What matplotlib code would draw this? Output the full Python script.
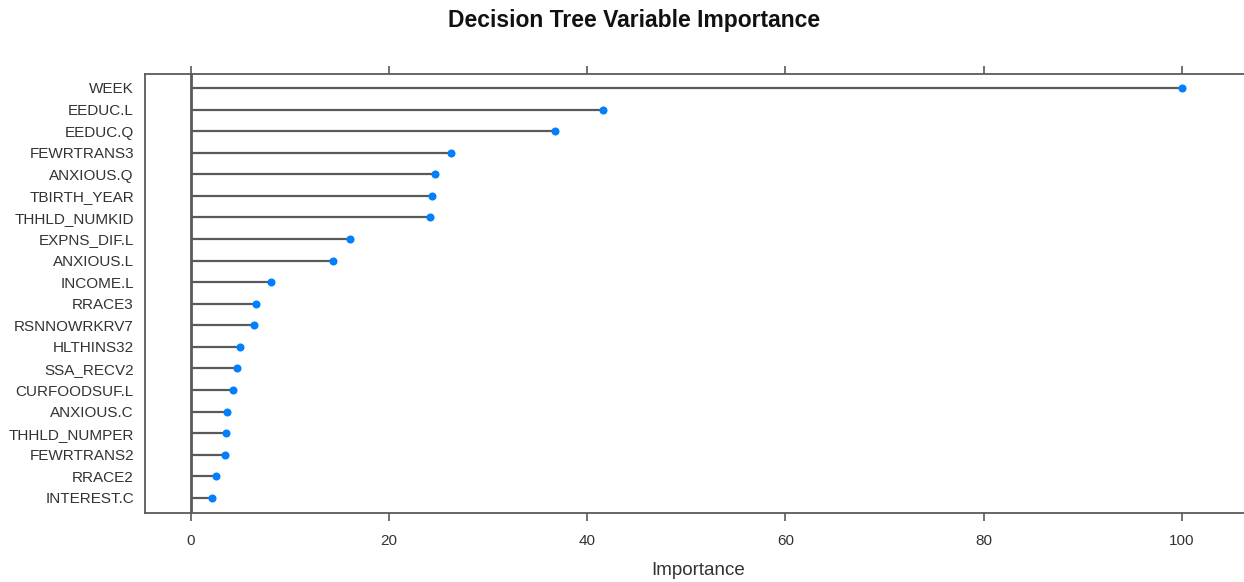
import matplotlib
matplotlib.use('Agg')
from matplotlib import pyplot as plt

plt.rcParams['font.family'] = ['Liberation Sans', 'DejaVu Sans']

variables = ['WEEK', 'EEDUC.L', 'EEDUC.Q', 'FEWRTRANS3', 'ANXIOUS.Q', 'TBIRTH_YEAR',
             'THHLD_NUMKID', 'EXPNS_DIF.L', 'ANXIOUS.L', 'INCOME.L', 'RRACE3',
             'RSNNOWRKRV7', 'HLTHINS32', 'SSA_RECV2', 'CURFOODSUF.L', 'ANXIOUS.C',
             'THHLD_NUMPER', 'FEWRTRANS2', 'RRACE2', 'INTEREST.C']
importance = [100, 41.6, 36.7, 26.2, 24.6, 24.3, 24.1, 16.0, 14.3, 8.1, 6.6,
              6.4, 4.9, 4.6, 4.2, 3.6, 3.5, 3.4, 2.5, 2.1]
xticks = [0, 20, 40, 60, 80, 100]

fig = plt.figure(figsize=(12.44, 5.82), dpi=100)
ax = fig.add_axes([0.1166, 0.1186, 0.889, 0.7543])

n = len(variables)
ypos = list(range(n, 0, -1))

# reference line at zero, and the stems
ax.axvline(0, color='#5a5a5a', linewidth=2, zorder=1)
ax.hlines(ypos, 0, importance, color='#5a5a5a', linewidth=1.6, zorder=2)
ax.plot(importance, ypos, 'o', color='#0080ff', markersize=4.8, zorder=3)

ax.set_xlim(-4.64, 107)
ax.set_ylim(0.3, n + 0.65)
ax.set_yticks(ypos)
ax.set_yticklabels(variables, fontsize=11, color='#333333')
ax.tick_params(axis='y', length=0, pad=8)
ax.set_xticks(xticks)
ax.tick_params(axis='x', top=True, labeltop=False, length=6, width=1.2,
               color='#5a5a5a', labelsize=11, labelcolor='#333333', pad=9)
for spine in ax.spines.values():
    spine.set_color('#5a5a5a')
    spine.set_linewidth(1.3)

ax.set_xlabel('Importance', fontsize=13.5, color='#333333', labelpad=10)
fig.text(0.51, 0.965, 'Decision Tree Variable Importance', ha='center', va='center',
         fontsize=16.5, fontweight='bold', color='#111111')

plt.savefig('out.png', dpi=100)
plt.close('all')
